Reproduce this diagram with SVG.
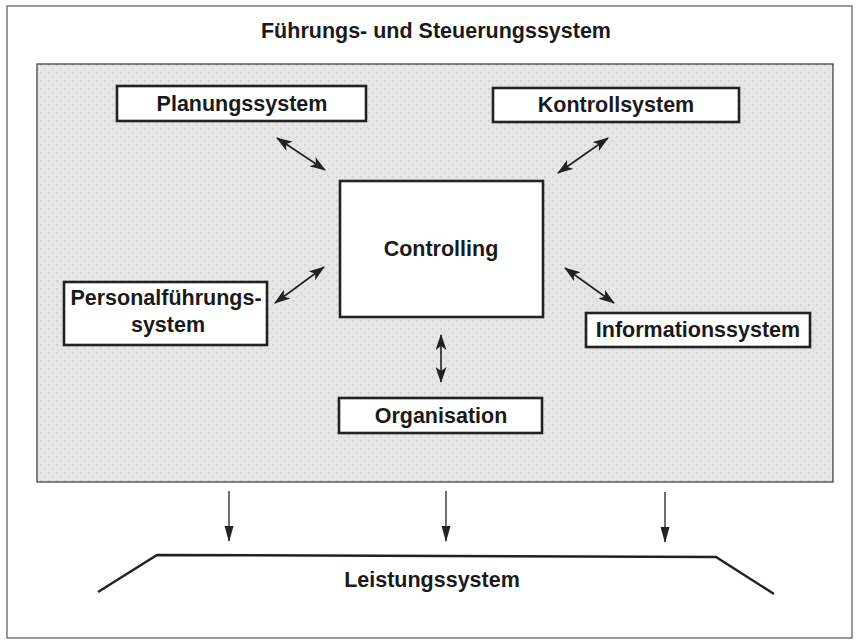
<svg xmlns="http://www.w3.org/2000/svg" width="858" height="640" viewBox="0 0 858 640">
<style>
.t{font-family:"Liberation Sans",Arial,sans-serif;font-weight:bold;font-size:21.5px;fill:#1a1a1a;text-anchor:middle}
.box{fill:#fff;stroke:#222;stroke-width:2.6}
.dbl{stroke:#222;stroke-width:1.6;fill:none;marker-start:url(#ah);marker-end:url(#ah)}
.down{stroke:#222;stroke-width:1.3;fill:none;marker-end:url(#ad)}
</style>
<defs>
<marker id="ah" markerUnits="userSpaceOnUse" viewBox="0 0 16 11" refX="15" refY="5.5" markerWidth="16" markerHeight="11" orient="auto-start-reverse">
<path d="M0,0 L16,5.5 L0,11 L4,5.5 Z" fill="#222"/>
</marker>
<marker id="ad" markerUnits="userSpaceOnUse" viewBox="0 0 16 10" refX="15" refY="5" markerWidth="16" markerHeight="10" orient="auto">
<path d="M0,0.5 L16,5 L0,9.5 Z" fill="#222"/>
</marker>
<pattern id="tex" width="8" height="8" patternUnits="userSpaceOnUse">
<rect width="8" height="8" fill="#e6e6e6"/>
<rect x="0" y="0" width="2" height="2" fill="#d2d2d2"/>
<rect x="4" y="4" width="2" height="2" fill="#d8d8d8"/>
</pattern>
</defs>
<rect x="7" y="6" width="845" height="632" fill="#fff" stroke="#555" stroke-width="1.2"/>
<text class="t" x="436" y="38">Führungs- und Steuerungssystem</text>
<rect x="37" y="64" width="796" height="418" fill="url(#tex)" stroke="#444" stroke-width="1.3"/>
<g id="planung"><rect class="box" x="117" y="86" width="249" height="35"/><text class="t" x="242" y="111">Planungssystem</text></g>
<g id="kontroll"><rect class="box" x="493" y="88" width="246" height="34"/><text class="t" x="616" y="112">Kontrollsystem</text></g>
<g id="controlling"><rect class="box" x="340" y="181" width="203" height="136"/><text class="t" x="441" y="256">Controlling</text></g>
<g id="personal"><rect class="box" x="64" y="282" width="203" height="63"/><text class="t" x="166" y="305">Personalführungs-</text><text class="t" x="168" y="332">system</text></g>
<g id="information"><rect class="box" x="586" y="313" width="224" height="34"/><text class="t" x="698" y="337">Informationssystem</text></g>
<g id="organisation"><rect class="box" x="339" y="398" width="203" height="35"/><text class="t" x="441" y="423">Organisation</text></g>
<g id="leistung"><polyline points="98,592 157,555 716,557 774,594" fill="none" stroke="#222" stroke-width="2.5"/><text class="t" x="432" y="587">Leistungssystem</text></g>
<g id="connectors">
<line class="dbl" x1="277" y1="138" x2="325" y2="170"/>
<line class="dbl" x1="558" y1="173" x2="608" y2="138"/>
<line class="dbl" x1="275" y1="303" x2="324" y2="267"/>
<line class="dbl" x1="565" y1="268" x2="614" y2="303"/>
<line class="dbl" x1="441" y1="335" x2="441" y2="382"/>
<line class="down" x1="229" y1="491" x2="229" y2="541"/>
<line class="down" x1="446" y1="491" x2="446" y2="541"/>
<line class="down" x1="665" y1="492" x2="665" y2="542"/>
</g>
</svg>
